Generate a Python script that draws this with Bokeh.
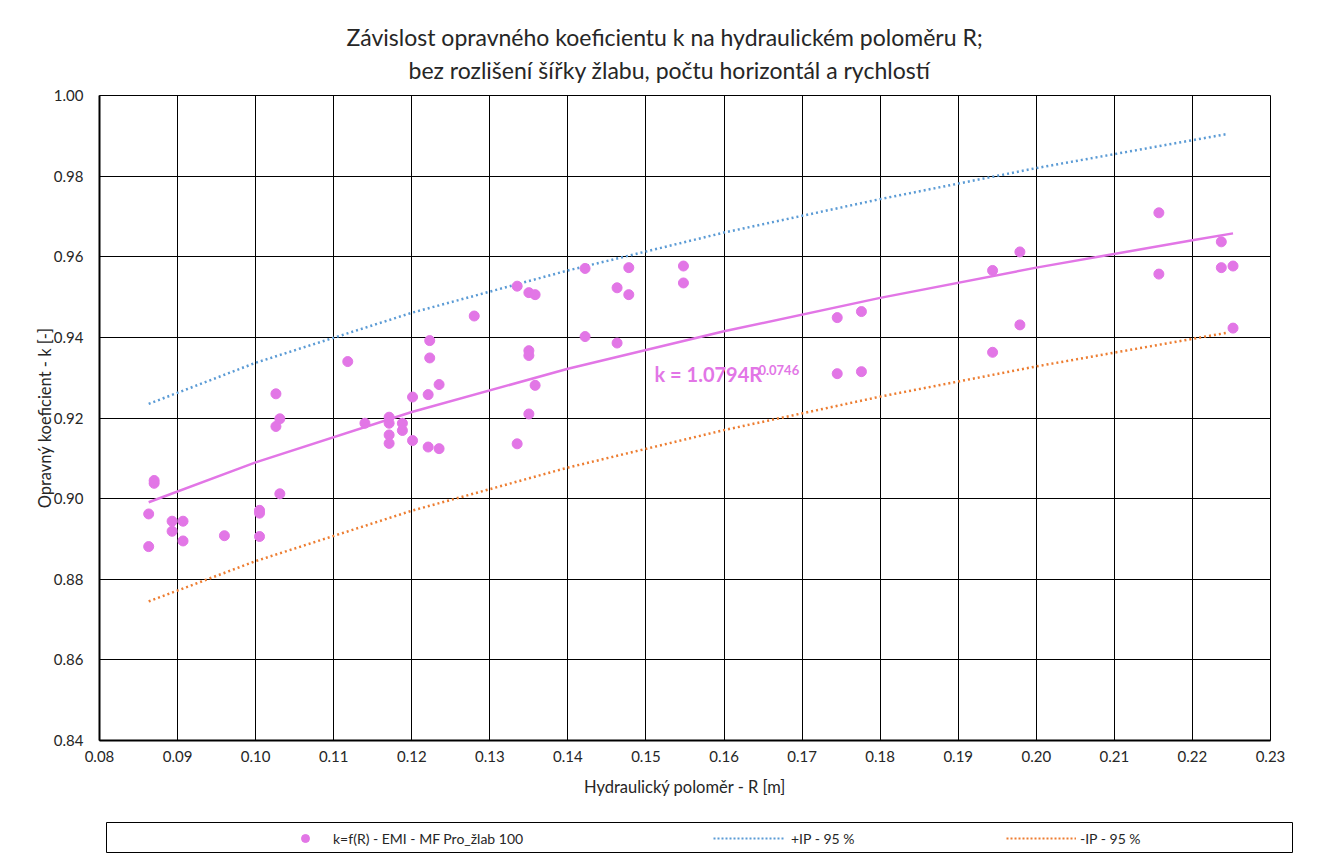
from bokeh.plotting import figure
from bokeh.models import (Range1d, FixedTicker, NumeralTickFormatter, Title, Label,
                          Legend, LegendItem)
from bokeh.embed import file_html
from bokeh.resources import INLINE

# ---------------- data ----------------
R = [0.0863, 0.0863, 0.0870, 0.0870, 0.0893, 0.0893, 0.0907, 0.0907, 0.0960,
     0.1005, 0.1005, 0.1005, 0.1026, 0.1031, 0.1026, 0.1031, 0.1118, 0.1140,
     0.1171, 0.1171, 0.1171, 0.1171, 0.1188, 0.1188, 0.1201, 0.1201, 0.1221,
     0.1221, 0.1235, 0.1235, 0.1223, 0.1223, 0.1280, 0.1335, 0.1350, 0.1358,
     0.1350, 0.1350, 0.1358, 0.1350, 0.1335, 0.1422, 0.1422, 0.1463, 0.1463,
     0.1478, 0.1478, 0.1548, 0.1548, 0.1745, 0.1745, 0.1776, 0.1776, 0.1944,
     0.1944, 0.1979, 0.1979, 0.2157, 0.2157, 0.2237, 0.2237, 0.2252, 0.2252]
k = [0.8962, 0.8881, 0.9045, 0.9038, 0.8944, 0.8919, 0.8944, 0.8895, 0.8908,
     0.8971, 0.8964, 0.8906, 0.9260, 0.9198, 0.9179, 0.9012, 0.9340, 0.9187,
     0.9202, 0.9187, 0.9158, 0.9137, 0.9187, 0.9169, 0.9252, 0.9144, 0.9258,
     0.9128, 0.9124, 0.9283, 0.9392, 0.9349, 0.9453, 0.9527, 0.9511, 0.9506,
     0.9367, 0.9355, 0.9281, 0.9210, 0.9136, 0.9571, 0.9402, 0.9523, 0.9386,
     0.9573, 0.9506, 0.9577, 0.9535, 0.9449, 0.9310, 0.9464, 0.9315, 0.9566,
     0.9363, 0.9612, 0.9431, 0.9709, 0.9557, 0.9637, 0.9573, 0.9577, 0.9423]

trend_R = [0.0863, 0.10, 0.12, 0.14, 0.16, 0.18, 0.20, 0.22, 0.2252]
trend_k = [0.8991, 0.9090, 0.9215, 0.9322, 0.9415, 0.9498, 0.9573, 0.9641, 0.9658]

ip_R = [0.0863, 0.10, 0.12, 0.14, 0.16, 0.18, 0.20, 0.2246]
ip_upper = [0.9235, 0.9337, 0.9461, 0.9566, 0.9660, 0.9743, 0.9820, 0.9905]
ip_lower = [0.8745, 0.8845, 0.8970, 0.9077, 0.9170, 0.9253, 0.9328, 0.9412]

x_ticks = [0.08, 0.09, 0.10, 0.11, 0.12, 0.13, 0.14, 0.15, 0.16, 0.17, 0.18,
           0.19, 0.20, 0.21, 0.22, 0.23]
y_ticks = [0.84, 0.86, 0.88, 0.90, 0.92, 0.94, 0.96, 0.98, 1.00]

title_lines = ["Závislost opravného koeficientu k na hydraulickém poloměru R;",
               "bez rozlišení šířky žlabu, počtu horizontál a rychlostí"]
x_label = "Hydraulický poloměr - R [m]"
y_label = "Opravný koeficient - k [-]"
series_names = ["k=f(R) - EMI - MF Pro_žlab 100", "+IP - 95 %", "-IP - 95 %"]
eq_main = "k = 1.0794R"
eq_exp = "0.0746"

# ---------------- styles ----------------
PINK = "#E276E6"
BLUE = "#5B9BD5"
ORANGE = "#ED7D31"
FONT = "Lato"
TXT = "#262626"

p = figure(width=1333, height=822, output_backend="svg", toolbar_location=None,
           x_range=Range1d(x_ticks[0], x_ticks[-1]), y_range=Range1d(y_ticks[0], y_ticks[-1]),
           min_border_left=99, min_border_right=63, min_border_top=95, min_border_bottom=82)
p.title.visible = False

# two title lines, each centred on the chart area
t2 = Title(text=title_lines[1], align="left", offset=309, text_font=FONT,
           text_font_size="23px", text_font_style="normal", text_color=TXT, standoff=23)
t1 = Title(text=title_lines[0], align="left", offset=247, text_font=FONT,
           text_font_size="23px", text_font_style="normal", text_color=TXT, standoff=-16)
p.add_layout(t2, "above")
p.add_layout(t1, "above")

# axes
for ax in (p.xaxis[0], p.yaxis[0]):
    ax.axis_line_color = "black"
    ax.axis_line_width = 2
    ax.major_tick_out = 0
    ax.major_tick_in = 0
    ax.minor_tick_out = 0
    ax.minor_tick_in = 0
    ax.major_label_text_font = FONT
    ax.major_label_text_font_size = "15px"
    ax.major_label_text_color = TXT
    ax.axis_label_text_font = FONT
    ax.axis_label_text_font_size = "16.5px"
    ax.axis_label_text_font_style = "normal"
    ax.axis_label_text_color = TXT
    ax.formatter = NumeralTickFormatter(format="0.00")

p.xaxis[0].ticker = FixedTicker(ticks=x_ticks)
p.yaxis[0].ticker = FixedTicker(ticks=y_ticks)
p.xaxis[0].axis_label = x_label
p.yaxis[0].axis_label = y_label
p.xaxis[0].major_label_standoff = 10
p.xaxis[0].axis_label_standoff = 12
p.yaxis[0].major_label_standoff = 16
p.yaxis[0].axis_label_standoff = -4

p.xgrid.ticker = FixedTicker(ticks=x_ticks)
p.ygrid.ticker = FixedTicker(ticks=y_ticks)
p.xgrid.grid_line_color = "black"
p.ygrid.grid_line_color = "black"
p.xgrid.grid_line_width = 1
p.ygrid.grid_line_width = 1
p.outline_line_color = "black"
p.outline_line_width = 1
p.background_fill_color = "white"
p.border_fill_color = "white"

# series
p.line(ip_R, ip_upper, line_color=BLUE, line_width=2.5, line_dash="2 3")
p.line(ip_R, ip_lower, line_color=ORANGE, line_width=2.5, line_dash="2 3")
p.line(trend_R, trend_k, line_color=PINK, line_width=2.5)
p.scatter(R, k, size=10, fill_color=PINK, line_color=PINK, marker="circle")

# trendline equation
p.add_layout(Label(x=0.1511, y=0.9310, text=eq_main, text_font=FONT, text_font_size="20px",
                   text_font_style="bold", text_color=PINK, text_baseline="middle"))
p.add_layout(Label(x=0.1644, y=0.9320, text=eq_exp, text_font=FONT, text_font_size="13px",
                   text_font_style="bold", text_color=PINK, text_baseline="middle"))

# ---------------- legend panel (boxed, below the chart) ----------------
# the legend's own renderers hold the same series but lie outside its (empty) view
lg = figure(width=1187, height=31, output_backend="svg", toolbar_location=None,
            x_range=Range1d(2, 3), y_range=Range1d(2, 3),
            x_axis_location=None, y_axis_location=None,
            min_border_left=0, min_border_right=0, min_border_top=0, min_border_bottom=0,
            margin=(0, 0, 0, 106))
lg.grid.visible = False
lg.title.visible = False
lg.outline_line_color = "black"
lg.outline_line_width = 1
lg.background_fill_color = "white"
lg.border_fill_color = "white"

g_pts = lg.scatter(R, k, size=10, fill_color=PINK, line_color=PINK, marker="circle")
g_up = lg.line(ip_R, ip_upper, line_color=BLUE, line_width=2, line_dash="2 2")
g_lo = lg.line(ip_R, ip_lower, line_color=ORANGE, line_width=2, line_dash="2 2")

for rend, name, loc, gw, so in ((g_pts, series_names[0], (179, 5), 40, 8),
                                 (g_up, series_names[1], (607, 5), 72, 6),
                                 (g_lo, series_names[2], (900, 5), 70, 4)):
    L = Legend(items=[LegendItem(label=name, renderers=[rend])], location=loc,
               padding=0, margin=0, spacing=0, glyph_width=gw, glyph_height=20,
               label_height=20, label_standoff=so, border_line_color=None,
               background_fill_alpha=0, label_text_font=FONT,
               label_text_font_size="14px", label_text_color=TXT)
    lg.add_layout(L, "center")

open("out.html", "w").write(file_html([p, lg], INLINE))
